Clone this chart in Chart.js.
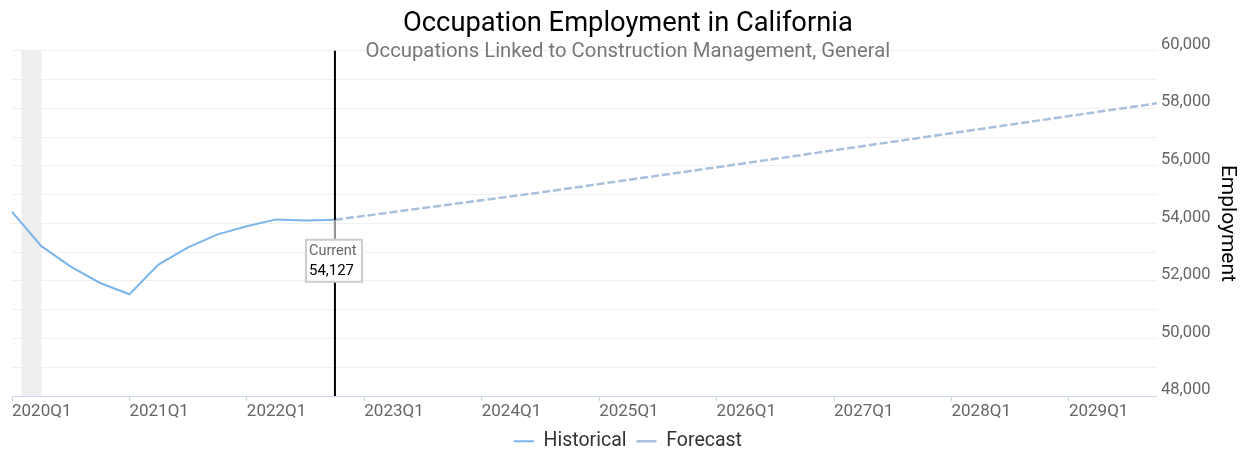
<!DOCTYPE html>
<html>
<head>
<meta charset="utf-8">
<script src="https://cdn.jsdelivr.net/npm/chart.js@4/dist/chart.umd.min.js"></script>
<style>
  html, body { margin: 0; padding: 0; background: #ffffff; }
  #wrap { width: 1246px; height: 452px; position: relative; }
</style>
</head>
<body>
<div id="wrap"><canvas id="c" width="1246" height="452"></canvas></div>
<script>
// ---- data ----
const quarters = [
  '2020Q1','2020Q2','2020Q3','2020Q4','2021Q1','2021Q2','2021Q3','2021Q4',
  '2022Q1','2022Q2','2022Q3','2022Q4','2023Q1','2023Q2','2023Q3','2023Q4',
  '2024Q1','2024Q2','2024Q3','2024Q4','2025Q1','2025Q2','2025Q3','2025Q4',
  '2026Q1','2026Q2','2026Q3','2026Q4','2027Q1','2027Q2','2027Q3','2027Q4',
  '2028Q1','2028Q2','2028Q3','2028Q4','2029Q1','2029Q2','2029Q3','2029Q4'
];
const historical = [
  54400, 53210, 52500, 51930, 51540, 52580, 53170, 53620, 53900, 54140, 54100, 54127
];
const forecast = [
  null, null, null, null, null, null, null, null, null, null, null,
  54127, 54262, 54398, 54533, 54668, 54804, 54940, 55076, 55222, 55368,
  55514, 55660, 55805, 55951, 56097, 56245, 56393, 56542, 56690, 56838,
  56986, 57135, 57283, 57432, 57580, 57728, 57877, 58025, 58173
];
const recessionBand = [0.33, 1.0]; // Feb 2020 to Apr 2020, in quarters after 2020Q1
const yMin = 48000, yMax = 60000, yGridStep = 1000, yLabelStep = 2000;
const titleText = 'Occupation Employment in California';
const subtitleText = 'Occupations Linked to Construction Management, General';
const yTitle = 'Employment';
const currentLabel = 'Current';

const currentIndex = historical.length - 1;
const currentValue = historical[currentIndex];
const historicalFull = quarters.map((q, i) => i < historical.length ? historical[i] : null);

const FONT = "Roboto, 'Liberation Sans', Arial, sans-serif";

const overlayPlugin = {
  id: 'overlay',
  beforeDatasetsDraw(chart) {
    const { ctx, chartArea, scales } = chart;
    const x = scales.x;
    ctx.save();
    const x0 = x.getPixelForValue(recessionBand[0]);
    const x1 = x.getPixelForValue(recessionBand[1]);
    ctx.fillStyle = '#eeeeee';
    ctx.fillRect(x0, chartArea.top, x1 - x0, chartArea.bottom - chartArea.top);
    ctx.restore();
  },
  afterDatasetsDraw(chart) {
    const { ctx, chartArea, scales } = chart;
    const px = scales.x.getPixelForValue(currentIndex);
    const py = scales.y.getPixelForValue(currentValue);
    ctx.save();
    ctx.strokeStyle = '#000000';
    ctx.lineWidth = 2;
    ctx.beginPath();
    ctx.moveTo(px, chartArea.top);
    ctx.lineTo(px, chartArea.bottom);
    ctx.stroke();
    const boxW = 56, boxH = 42, gap = 20;
    const bx = px - boxW / 2 - 1, by = py + gap;
    ctx.strokeStyle = '#999999';
    ctx.lineWidth = 2;
    ctx.beginPath();
    ctx.moveTo(px, py);
    ctx.lineTo(px, by);
    ctx.stroke();
    ctx.fillStyle = '#ffffff';
    ctx.fillRect(bx, by, boxW, boxH);
    ctx.strokeStyle = '#cccccc';
    ctx.lineWidth = 2;
    ctx.strokeRect(bx, by, boxW, boxH);
    ctx.textAlign = 'left';
    ctx.textBaseline = 'middle';
    ctx.fillStyle = '#666666';
    ctx.font = '14.5px ' + FONT;
    ctx.fillText(currentLabel, bx + 3, by + 12);
    ctx.fillStyle = '#000000';
    ctx.font = '15px ' + FONT;
    ctx.fillText(currentValue.toLocaleString('en-US'), bx + 3, by + 31);
    ctx.restore();
  }
};

new Chart(document.getElementById('c'), {
  type: 'line',
  data: {
    labels: quarters,
    datasets: [
      {
        label: 'Historical',
        data: historicalFull,
        borderColor: '#7cb5ec',
        backgroundColor: '#7cb5ec',
        borderWidth: 2,
        pointRadius: 0,
        tension: 0,
        spanGaps: false
      },
      {
        label: 'Forecast',
        data: forecast,
        borderColor: '#a9c0dc',
        backgroundColor: '#a9c0dc',
        borderWidth: 2.5,
        borderDash: [8, 3],
        pointRadius: 0,
        tension: 0,
        spanGaps: false
      }
    ]
  },
  options: {
    responsive: false,
    animation: false,
    events: [],
    layout: { padding: { left: 12, right: 2.2, top: 0, bottom: -9 } },
    plugins: {
      title: {
        display: true,
        text: titleText,
        color: '#000000',
        font: { family: FONT, size: 27.3, weight: 'normal' },
        padding: { top: 7.8, bottom: 0 }
      },
      subtitle: {
        display: true,
        text: subtitleText,
        color: '#777777',
        font: { family: FONT, size: 20.3, weight: 'normal' },
        padding: { top: -1.2, bottom: -13 }
      },
      legend: {
        display: true,
        position: 'bottom',
        labels: {
          usePointStyle: true,
          pointStyle: 'line',
          pointStyleWidth: 20,
          boxHeight: 19.5,
          padding: 10,
          color: '#333333',
          font: { family: FONT, size: 19.5 }
        }
      },
      tooltip: { enabled: false }
    },
    scales: {
      x: {
        type: 'category',
        offset: false,
        border: { display: true, color: '#ccd6eb', width: 1 },
        grid: {
          display: true,
          drawOnChartArea: false,
          drawTicks: true,
          tickLength: 5,
          color: (c) => (c.tick && quarters[c.index] && quarters[c.index].endsWith('Q1')) ? '#ccd6eb' : 'rgba(0,0,0,0)'
        },
        ticks: {
          autoSkip: false,
          maxRotation: 0,
          minRotation: 0,
          align: 'start',
          padding: 0,
          color: '#666666',
          font: { family: FONT, size: 17 },
          callback: function (v, i) { return quarters[i].endsWith('Q1') ? quarters[i] : ''; }
        }
      },
      y: {
        position: 'right',
        min: yMin,
        max: yMax,
        border: { display: false },
        grid: { color: '#f0f0f0', lineWidth: 1, drawTicks: false },
        ticks: {
          stepSize: yGridStep,
          padding: 4,
          labelOffset: -6,
          color: '#666666',
          font: { family: FONT, size: 16.5 },
          callback: (v) => (v % yLabelStep === 0) ? Number(v).toLocaleString('en-US') : ''
        },
        title: {
          display: true,
          text: yTitle,
          color: '#000000',
          font: { family: FONT, size: 21 },
          padding: { top: 4, bottom: 0 }
        }
      }
    }
  },
  plugins: [overlayPlugin]
});
</script>
</body>
</html>
